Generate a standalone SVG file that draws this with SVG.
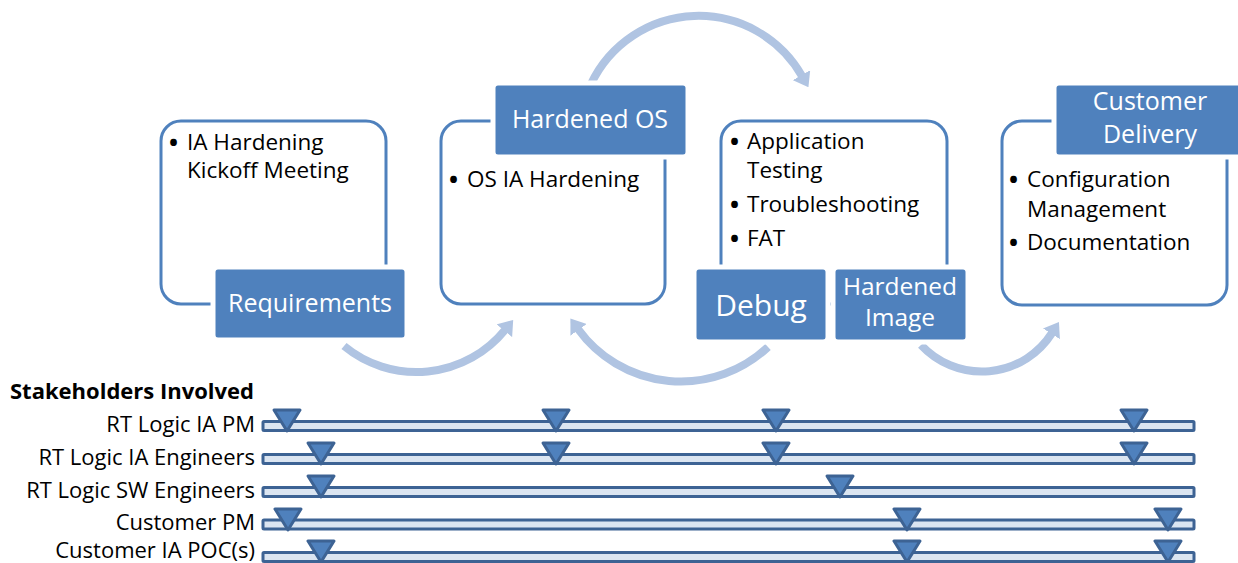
<svg xmlns="http://www.w3.org/2000/svg" width="1238" height="563" viewBox="0 0 1238 563">
<style>
.outline{fill:#fff;stroke:#4F81BD;stroke-width:3}
.label{fill:#4F81BD;stroke:#fff;stroke-width:5}
.lt{font-family:"Open Sans","Liberation Sans",sans-serif;fill:#fff;text-anchor:middle}
.bt{font-family:"Open Sans","Liberation Sans",sans-serif;font-size:22.5px;fill:#000}
.bu{font-family:"Open Sans","Liberation Sans",sans-serif;font-size:24px;font-weight:700;fill:#000}
.arc{fill:none;stroke:#B0C4E2;stroke-width:8}
.bar{fill:#DBE5F1;stroke:#3D6394;stroke-width:3}
.tri{fill:#4F81BD;stroke:#3D6394;stroke-width:3;stroke-linejoin:round}
.sl{font-family:"Open Sans","Liberation Sans",sans-serif;font-size:22px;fill:#000;text-anchor:end}
</style>
<defs>
<marker id="ah" viewBox="0 0 14 20" markerWidth="14" markerHeight="20" refX="1" refY="10" orient="auto" markerUnits="userSpaceOnUse">
<path d="M0,0 L14,10 L0,20 z" fill="#B0C4E2"/>
</marker>
</defs>
<rect width="1238" height="563" fill="#fff"/>

<g id="connectors">
<path class="arc" d="M 591 84 A 119 119 0 0 1 802 76" marker-end="url(#ah)"/>
<path class="arc" d="M 344 346 A 114 114 0 0 0 505 330" marker-end="url(#ah)"/>
<path class="arc" d="M 768 347 A 127 127 0 0 1 578 329" marker-end="url(#ah)"/>
<path class="arc" d="M 921 345 A 83 83 0 0 0 1052 333" marker-end="url(#ah)"/>
</g>

<g id="node-requirements">
<rect class="outline" x="161" y="121" width="225" height="183" rx="20"/>
<text class="bu" x="169" y="151">•</text>
<text class="bt" x="187" y="150">IA Hardening</text>
<text class="bt" x="187" y="178">Kickoff Meeting</text>
<rect class="label" x="213" y="267" width="194" height="73" rx="5"/>
<text class="lt" x="310" y="312" font-size="25">Requirements</text>
</g>

<g id="node-hardened-os">
<rect class="outline" x="441" y="121" width="224" height="183" rx="20"/>
<text class="bu" x="449" y="188">•</text>
<text class="bt" x="467" y="187">OS IA Hardening</text>
<rect class="label" x="493" y="83" width="195" height="74" rx="5"/>
<text class="lt" x="590" y="128" font-size="25">Hardened OS</text>
</g>

<g id="node-testing">
<rect class="outline" x="721" y="121" width="226" height="183" rx="20"/>
<text class="bu" x="730" y="150">•</text>
<text class="bt" x="747" y="149">Application</text>
<text class="bt" x="747" y="178">Testing</text>
<text class="bu" x="730" y="213">•</text>
<text class="bt" x="747" y="212">Troubleshooting</text>
<text class="bu" x="730" y="247">•</text>
<text class="bt" x="747" y="246">FAT</text>
</g>

<g id="node-debug">
<rect class="label" x="694" y="267" width="134" height="75" rx="5"/>
<text class="lt" x="761" y="316" font-size="30">Debug</text>
</g>

<g id="node-hardened-image">
<rect class="label" x="833" y="267" width="135" height="75" rx="5"/>
<text class="lt" x="900" y="295" font-size="24.5">Hardened</text>
<text class="lt" x="900" y="326" font-size="24.5">Image</text>
</g>

<g id="node-customer-delivery">
<rect class="outline" x="1002" y="121" width="225" height="184" rx="20"/>
<text class="bu" x="1009" y="188">•</text>
<text class="bt" x="1027" y="187">Configuration</text>
<text class="bt" x="1027" y="217">Management</text>
<text class="bu" x="1009" y="251">•</text>
<text class="bt" x="1027" y="250">Documentation</text>
<rect class="label" x="1054" y="83" width="200" height="74" rx="5"/>
<text class="lt" x="1150" y="110" font-size="25">Customer</text>
<text class="lt" x="1150" y="143" font-size="25">Delivery</text>
</g>

<g id="stakeholders">
<text x="10" y="399" font-family="Open Sans, Liberation Sans, sans-serif" font-weight="700" font-size="22">Stakeholders Involved</text>

<g id="row-rt-ia-pm">
<text class="sl" x="255" y="432">RT Logic IA PM</text>
<rect class="bar" x="263" y="421.5" width="931" height="9" rx="1"/>
<polygon class="tri" points="274,410 300,410 287,431"/>
<polygon class="tri" points="543,410 569,410 556,431"/>
<polygon class="tri" points="763,410 789,410 776,431"/>
<polygon class="tri" points="1121,410 1147,410 1134,431"/>
</g>

<g id="row-rt-ia-eng">
<text class="sl" x="255" y="465">RT Logic IA Engineers</text>
<rect class="bar" x="263" y="454.5" width="931" height="9" rx="1"/>
<polygon class="tri" points="308,443 334,443 321,464"/>
<polygon class="tri" points="543,443 569,443 556,464"/>
<polygon class="tri" points="763,443 789,443 776,464"/>
<polygon class="tri" points="1121,443 1147,443 1134,464"/>
</g>

<g id="row-rt-sw-eng">
<text class="sl" x="255" y="498">RT Logic SW Engineers</text>
<rect class="bar" x="263" y="487.5" width="931" height="9" rx="1"/>
<polygon class="tri" points="308,476 334,476 321,497"/>
<polygon class="tri" points="827,476 853,476 840,497"/>
</g>

<g id="row-customer-pm">
<text class="sl" x="255" y="530">Customer PM</text>
<rect class="bar" x="263" y="520" width="931" height="9" rx="1"/>
<polygon class="tri" points="275,509 301,509 288,530"/>
<polygon class="tri" points="894,509 920,509 907,530"/>
<polygon class="tri" points="1155,509 1181,509 1168,530"/>
</g>

<g id="row-customer-ia-poc">
<text class="sl" x="255" y="558">Customer IA POC(s)</text>
<rect class="bar" x="263" y="552.5" width="931" height="9" rx="1"/>
<polygon class="tri" points="308,541 334,541 321,562"/>
<polygon class="tri" points="894,541 920,541 907,562"/>
<polygon class="tri" points="1155,541 1181,541 1168,562"/>
</g>
</g>
</svg>
